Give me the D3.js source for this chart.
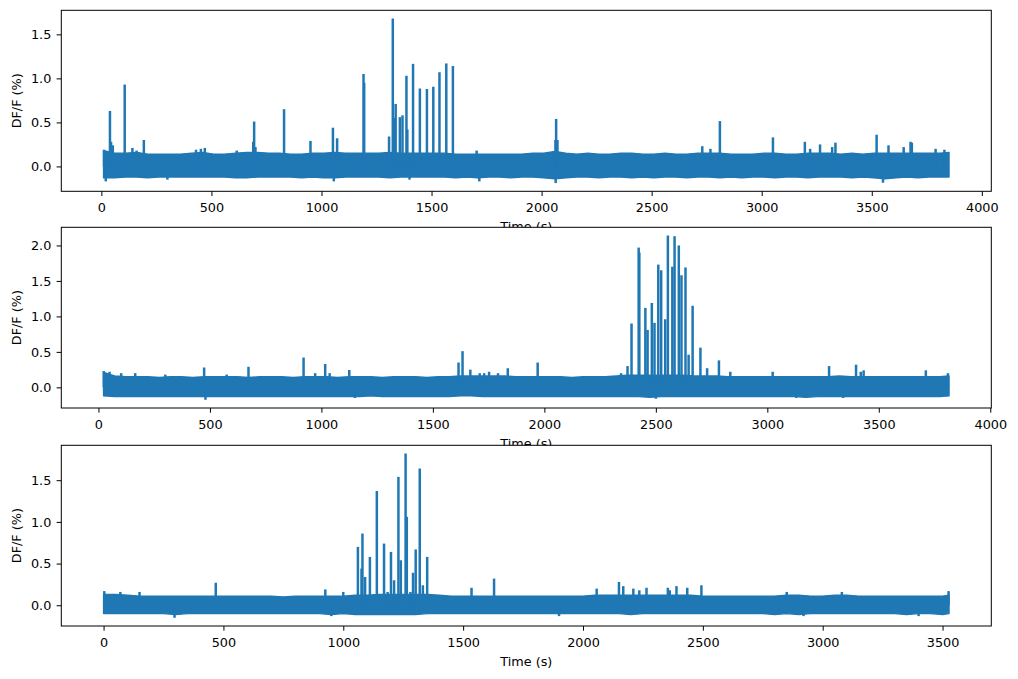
<!DOCTYPE html>
<html><head><meta charset="utf-8">
<script src="https://cdn.jsdelivr.net/npm/d3@7"></script>
<style>body{margin:0;background:#fff} text{font-family:"DejaVu Sans",sans-serif;}</style>
</head><body><svg id="c" width="1018" height="679"></svg>
<script>
// ---------- data ----------
const envStep = 50;            // seconds between envelope samples
// Panel 1
const p1Start = 10, p1End = 3851;
const p1Hi = [0.18,0.15,0.15,0.16,0.14,0.14,0.14,0.14,0.15,0.16,0.14,0.14,0.15,0.16,0.16,0.15,0.15,0.14,0.14,0.15,
  0.15,0.16,0.15,0.15,0.15,0.15,0.16,0.15,0.15,0.15,0.15,0.15,0.14,0.14,0.14,0.14,0.14,0.14,0.14,0.15,
  0.15,0.17,0.15,0.14,0.15,0.14,0.14,0.15,0.15,0.14,0.14,0.15,0.14,0.14,0.15,0.15,0.15,0.14,0.14,0.14,
  0.15,0.15,0.14,0.14,0.15,0.15,0.15,0.14,0.15,0.14,0.15,0.15,0.15,0.15,0.15,0.15,0.15,0.16];
const p1Lo = [-0.13,-0.13,-0.12,-0.12,-0.13,-0.12,-0.12,-0.12,-0.12,-0.12,-0.12,-0.12,-0.13,-0.13,-0.12,-0.12,-0.12,-0.12,-0.13,-0.12,
  -0.13,-0.13,-0.12,-0.12,-0.12,-0.12,-0.13,-0.12,-0.12,-0.12,-0.12,-0.12,-0.13,-0.12,-0.13,-0.12,-0.12,-0.13,-0.12,-0.12,
  -0.13,-0.14,-0.13,-0.12,-0.12,-0.13,-0.12,-0.12,-0.13,-0.12,-0.13,-0.12,-0.12,-0.13,-0.12,-0.12,-0.13,-0.12,-0.13,-0.12,
  -0.12,-0.13,-0.12,-0.12,-0.13,-0.12,-0.12,-0.12,-0.13,-0.12,-0.13,-0.14,-0.13,-0.12,-0.13,-0.12,-0.12,-0.12];
const p1SpikeT = [12,39,44,52,106,141,160,193,430,452,470,615,690,694,700,830,950,1052,1071,1191,1194,1307,1324,1330,1337,1356,1368,1386,1390,1416,1447,1479,1508,1536,1567,1597,1705,2063,2066,2072,2730,2767,2810,3051,3196,3220,3265,3320,3335,3522,3576,3645,3676,3682,3790,3830,
  20,300,1056,1400,1717,2064,3551];
const p1SpikeV = [0.19,0.63,0.28,0.24,0.93,0.21,0.18,0.30,0.19,0.20,0.21,0.18,0.28,0.51,0.22,0.65,0.29,0.44,0.32,1.05,0.95,0.34,1.68,0.55,0.71,0.56,0.58,1.03,0.42,1.165,0.885,0.88,0.905,1.07,1.17,1.14,0.18,0.30,0.54,0.30,0.23,0.20,0.515,0.33,0.28,0.20,0.25,0.22,0.27,0.36,0.24,0.22,0.28,0.27,0.20,0.19,
  -0.17,-0.15,-0.17,-0.15,-0.17,-0.189,-0.185];
const p1XTicks = [0,500,1000,1500,2000,2500,3000,3500,4000];
const p1YTicks = [0.0,0.5,1.0,1.5];

// Panel 2
const p2Start = 23, p2End = 3815;
const p2Hi = [0.21,0.16,0.15,0.15,0.15,0.14,0.15,0.15,0.14,0.15,0.15,0.15,0.15,0.14,0.15,0.15,0.15,0.14,0.15,0.15,
  0.15,0.14,0.15,0.15,0.15,0.14,0.15,0.15,0.15,0.14,0.15,0.15,0.16,0.16,0.16,0.16,0.16,0.15,0.15,0.15,
  0.15,0.15,0.14,0.15,0.15,0.15,0.16,0.17,0.17,0.17,0.17,0.17,0.17,0.16,0.16,0.16,0.15,0.15,0.15,0.15,
  0.15,0.15,0.15,0.15,0.15,0.15,0.16,0.15,0.15,0.15,0.15,0.15,0.15,0.15,0.15,0.15,0.16];
const p2Lo = [-0.12,-0.13,-0.13,-0.13,-0.13,-0.13,-0.13,-0.13,-0.13,-0.13,-0.13,-0.13,-0.13,-0.13,-0.13,-0.13,-0.13,-0.13,-0.13,-0.13,
  -0.13,-0.13,-0.13,-0.13,-0.12,-0.13,-0.13,-0.13,-0.13,-0.13,-0.13,-0.13,-0.12,-0.12,-0.13,-0.13,-0.13,-0.13,-0.13,-0.13,
  -0.13,-0.13,-0.13,-0.13,-0.13,-0.13,-0.13,-0.13,-0.13,-0.14,-0.13,-0.13,-0.13,-0.13,-0.13,-0.13,-0.13,-0.13,-0.13,-0.13,
  -0.13,-0.13,-0.13,-0.14,-0.13,-0.13,-0.13,-0.13,-0.13,-0.13,-0.13,-0.13,-0.13,-0.13,-0.13,-0.13,-0.12];
const p2SpikeT = [24,50,102,165,300,474,575,673,920,972,1017,1037,1125,1615,1633,1668,1710,1730,1752,1792,1836,1970,2344,2373,2391,2423,2426,2453,2463,2482,2494,2511,2524,2542,2554,2574,2584,2603,2615,2633,2647,2665,2700,2730,2783,2834,3024,3277,3398,3419,3432,3711,3810,
  480,1150,2500,3130,3340];
const p2SpikeV = [0.23,0.22,0.20,0.20,0.18,0.28,0.18,0.29,0.42,0.20,0.33,0.20,0.245,0.35,0.51,0.25,0.20,0.20,0.22,0.20,0.27,0.35,0.20,0.30,0.90,1.97,1.90,1.12,0.81,1.19,0.91,1.73,1.65,0.96,2.14,1.70,2.13,2.00,1.58,1.69,0.46,1.15,0.56,0.27,0.38,0.22,0.22,0.30,0.32,0.22,0.24,0.24,0.20,
  -0.175,-0.15,-0.16,-0.15,-0.15];
const p2XTicks = [0,500,1000,1500,2000,2500,3000,3500,4000];
const p2YTicks = [0.0,0.5,1.0,1.5,2.0];

// Panel 3
const p3Start = 0, p3End = 3527;
const p3Hi = [0.13,0.13,0.12,0.11,0.11,0.11,0.11,0.11,0.11,0.11,0.11,0.11,0.11,0.11,0.11,0.10,0.11,0.11,0.11,0.11,
  0.11,0.12,0.12,0.13,0.13,0.13,0.13,0.13,0.12,0.11,0.11,0.11,0.11,0.11,0.11,0.11,0.11,0.11,0.11,0.11,
  0.11,0.12,0.12,0.12,0.12,0.12,0.12,0.12,0.12,0.12,0.11,0.11,0.11,0.11,0.11,0.11,0.11,0.12,0.12,0.11,
  0.11,0.12,0.12,0.11,0.11,0.11,0.11,0.11,0.11,0.11,0.11,0.12];
const p3Lo = [-0.10,-0.10,-0.10,-0.10,-0.10,-0.10,-0.11,-0.10,-0.10,-0.10,-0.10,-0.10,-0.10,-0.10,-0.10,-0.10,-0.10,-0.10,-0.10,-0.11,
  -0.10,-0.11,-0.11,-0.11,-0.11,-0.11,-0.11,-0.10,-0.10,-0.10,-0.10,-0.10,-0.10,-0.10,-0.10,-0.10,-0.10,-0.10,-0.10,-0.10,
  -0.10,-0.10,-0.10,-0.10,-0.11,-0.10,-0.10,-0.10,-0.10,-0.10,-0.10,-0.10,-0.10,-0.10,-0.10,-0.10,-0.11,-0.10,-0.11,-0.10,
  -0.10,-0.10,-0.10,-0.10,-0.10,-0.10,-0.10,-0.11,-0.10,-0.10,-0.11,-0.10];
const p3SpikeT = [3,70,150,468,925,1000,1061,1076,1080,1091,1111,1140,1170,1185,1199,1212,1230,1240,1260,1265,1280,1291,1302,1319,1332,1350,1535,1629,2057,2150,2168,2210,2235,2265,2354,2362,2390,2435,2494,2850,3080,3525,
  296,950,1900,2920,3400];
const p3SpikeV = [0.17,0.16,0.16,0.27,0.19,0.16,0.70,0.44,0.86,0.34,0.58,1.37,0.74,0.16,0.64,0.30,1.54,0.54,1.82,1.06,0.16,0.39,0.67,1.64,0.24,0.58,0.21,0.32,0.20,0.28,0.23,0.20,0.18,0.21,0.21,0.18,0.23,0.21,0.24,0.16,0.16,0.17,
  -0.15,-0.13,-0.13,-0.13,-0.13];
const p3XTicks = [0,500,1000,1500,2000,2500,3000,3500];
const p3YTicks = [0.0,0.5,1.0,1.5];

const xLabel = "Time (s)";
const yLabel = "DF/F (%)";

// ---------- layout ----------
const color = "#1f77b4";
const FS = 12.8;
const L = 61.3, R = 991.3;
const boxes = [[10.3,191.3],[227.3,408],[445.3,626]];

const panels = [
  {start:p1Start,end:p1End,hi:p1Hi,lo:p1Lo,st:p1SpikeT,sv:p1SpikeV,xt:p1XTicks,yt:p1YTicks},
  {start:p2Start,end:p2End,hi:p2Hi,lo:p2Lo,st:p2SpikeT,sv:p2SpikeV,xt:p2XTicks,yt:p2YTicks},
  {start:p3Start,end:p3End,hi:p3Hi,lo:p3Lo,st:p3SpikeT,sv:p3SpikeV,xt:p3XTicks,yt:p3YTicks}
];

const svg = d3.select("#c");
svg.append("rect").attr("width",1018).attr("height",679).attr("fill","#fff");

panels.forEach((p,i)=>{
  const [top,bottom] = boxes[i];
  const n = Math.min(p.hi.length,p.lo.length);
  const env = d3.range(n).map(k=>({t:Math.min(p.start+k*envStep,p.end),hi:p.hi[k],lo:p.lo[k]}));
  const spikes = p.st.map((t,k)=>({t,v:p.sv[k]}));
  const tr = p.end-p.start;
  const x = d3.scaleLinear().domain([p.start-0.05*tr,p.end+0.05*tr]).range([L,R]);
  const vmin = Math.min(d3.min(p.lo),d3.min(p.sv)), vmax = Math.max(d3.max(p.hi),d3.max(p.sv));
  const vr = vmax-vmin;
  const y = d3.scaleLinear().domain([vmin-0.05*vr,vmax+0.05*vr]).range([bottom,top]);

  const g = svg.append("g");
  g.append("rect").attr("x",L).attr("y",top).attr("width",R-L).attr("height",bottom-top).attr("fill","#fff");

  const area = d3.area().x(d=>x(d.t)).y0(d=>y(d.lo)).y1(d=>y(d.hi));
  g.append("path").attr("d",area(env)).attr("fill",color).attr("stroke",color).attr("stroke-width",1.4).attr("stroke-linejoin","round");
  const line = d3.line();
  g.selectAll(".sp").data(spikes).join("path")
    .attr("d",d=>line([[x(d.t),y(0)],[x(d.t),y(d.v)]]))
    .attr("stroke",color).attr("stroke-width",2.5).attr("fill","none");

  // axes
  const xa = d3.axisBottom(x).tickValues(p.xt).tickFormat(d3.format("d")).tickSize(4.7).tickSizeOuter(0).tickPadding(7);
  const gx = g.append("g").attr("transform",`translate(0,${bottom})`).call(xa);
  const ya = d3.axisLeft(y).tickValues(p.yt).tickFormat(d3.format(".1f")).tickSize(4.7).tickSizeOuter(0).tickPadding(5.3);
  const gy = g.append("g").attr("transform",`translate(${L},0)`).call(ya);
  [gx,gy].forEach(a=>{
    a.select(".domain").remove();
    a.selectAll("line").attr("stroke","#000").attr("stroke-width",1);
    a.selectAll("text").attr("fill","#000").style("font-size",FS+"px").style("font-family","DejaVu Sans");
  });
  gx.selectAll("text").attr("dy","0.74em");
  gy.selectAll("text").attr("dy","0.34em");

  g.append("rect").attr("x",L).attr("y",top).attr("width",R-L).attr("height",bottom-top)
    .attr("fill","none").attr("stroke","#000").attr("stroke-width",1);

  g.append("text").attr("x",(L+R)/2).attr("y",bottom+40).attr("text-anchor","middle")
    .style("font-size",FS+"px").attr("fill","#000").text(xLabel);
  g.append("text").attr("transform",`translate(21,${(top+bottom)/2}) rotate(-90)`).attr("text-anchor","middle")
    .style("font-size",FS+"px").attr("fill","#000").text(yLabel);
});
</script></body></html>
